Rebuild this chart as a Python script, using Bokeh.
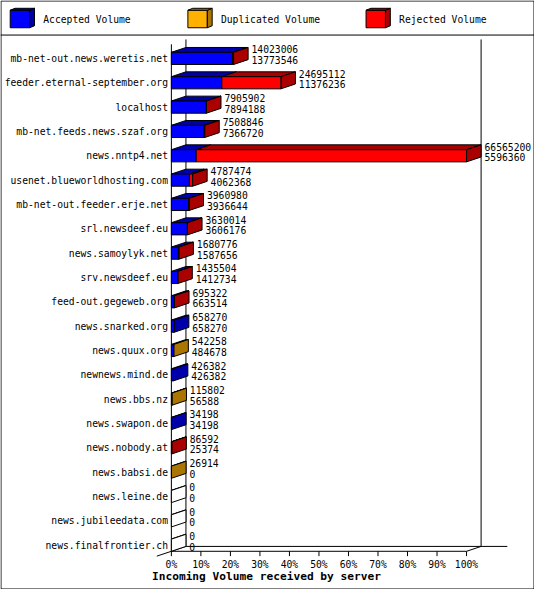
from bokeh.plotting import figure
from bokeh.models import Range1d
from bokeh.core.properties import value
from bokeh.embed import file_html
from bokeh.resources import INLINE

# ---------------- data ----------------
servers = [
    "mb-net-out.news.weretis.net",
    "feeder.eternal-september.org",
    "localhost",
    "mb-net.feeds.news.szaf.org",
    "news.nntp4.net",
    "usenet.blueworldhosting.com",
    "mb-net-out.feeder.erje.net",
    "srl.newsdeef.eu",
    "news.samoylyk.net",
    "srv.newsdeef.eu",
    "feed-out.gegeweb.org",
    "news.snarked.org",
    "news.quux.org",
    "newnews.mind.de",
    "news.bbs.nz",
    "news.swapon.de",
    "news.nobody.at",
    "news.babsi.de",
    "news.leine.de",
    "news.jubileedata.com",
    "news.finalfrontier.ch",
]
accepted = [13773546, 11376236, 7894188, 7366720, 5596360, 4062368, 3936644,
            3606176, 1587656, 1412734, 663514, 658270, 484678, 426382, 56588,
            34198, 25374, 0, 0, 0, 0]
duplicated = [0, 0, 0, 0, 0, 0, 0, 0, 0, 0, 0, 0, 57580, 0, 59214, 0, 0, 26914,
              0, 0, 0]
rejected = [249460, 13318876, 11714, 142126, 60968840, 725106, 24336, 23838,
            93120, 22770, 31808, 0, 0, 0, 0, 0, 61218, 0, 0, 0, 0]
series_names = ["Accepted Volume", "Duplicated Volume", "Rejected Volume"]
pct_ticks = [0, 10, 20, 30, 40, 50, 60, 70, 80, 90, 100]
title_text = "Incoming Volume received by server"

# ---------------- styles ----------------
face_colors = ["#0000FF", "#FFB000", "#FF0000"]
shade_colors = ["#0000AA", "#AA7500", "#AA0000"]
FONT = value("DejaVu Sans Mono")
FS = "9.7px"

# reference layout (pixel) -> data helpers
PX_X0, PX_PER_PCT = 176.0, 3.04
PX_Y0, PX_PER_ROW = 59.5, 25.0
def X(px): return (px - PX_X0) / PX_PER_PCT
def Y(py): return (py - PX_Y0) / PX_PER_ROW
DX = 15.0 / PX_PER_PCT
DY = -5.0 / PX_PER_ROW
HALF = 6.25 / PX_PER_ROW

p = figure(width=534, height=589, x_range=Range1d(X(0), X(550)),
           y_range=Range1d(Y(605), Y(0)), output_backend="svg",
           toolbar_location=None, min_border=0)
p.axis.visible = False
p.grid.visible = False
p.outline_line_color = None
p.background_fill_color = "white"
p.border_fill_color = "white"

n = len(servers)
totals = [a + d + r for a, d, r in zip(accepted, duplicated, rejected)]
vmax = max(totals)

# ---- frame / axes lines ----
top_back = Y(40)
floor_back = (n - 1) + HALF + DY
floor_front = (n - 1) + HALF
lines_x = [
    [0, 0], [X(191), X(191)], [100 + DX, 100 + DX], [X(191), X(522)],
    [0, 100], [100, 100 + DX], [X(161), X(191)],
]
lines_y = [
    [top_back - DY, floor_front], [top_back, floor_back], [top_back, floor_back],
    [floor_back, floor_back], [floor_front, floor_front],
    [floor_front, floor_back], [floor_front - DY, floor_back],
]
p.multi_line(lines_x, lines_y, line_color="black", line_width=1)
p.segment(x0=pct_ticks, x1=pct_ticks, y0=[floor_front] * len(pct_ticks),
          y1=[floor_front + 5 / PX_PER_ROW] * len(pct_ticks),
          line_color="black", line_width=1)
p.text(x=pct_ticks, y=[Y(579)] * len(pct_ticks),
       text=[f"{t}%" for t in pct_ticks], text_font=FONT, text_font_size=FS,
       text_align="center", text_baseline="middle", text_color="black")

# ---- bars ----
fl, fr, ft, fb, fc = [], [], [], [], []
txs, tys, tcs = [], [], []
sxs, sys_, scs = [], [], []
for i in range(n):
    vals = [accepted[i], duplicated[i], rejected[i]]
    yt, yb = i - HALF, i + HALF
    cum = 0
    last = None
    for k, v in enumerate(vals):
        if v <= 0:
            continue
        x0 = cum / vmax * 100
        x1 = (cum + v) / vmax * 100
        fl.append(x0); fr.append(x1); ft.append(yt); fb.append(yb)
        fc.append(face_colors[k])
        txs.append([x0, x1, x1 + DX, x0 + DX])
        tys.append([yt, yt, yt + DY, yt + DY])
        tcs.append(shade_colors[k])
        cum += v
        last = k
    xe = totals[i] / vmax * 100
    if last is None:
        txs.append([0, 0, DX, DX]); tys.append([yt, yt, yt + DY, yt + DY])
        tcs.append("white")
    sxs.append([xe, xe + DX, xe + DX, xe])
    sys_.append([yt, yt + DY, yb + DY, yb])
    scs.append(shade_colors[last] if last is not None else "white")

p.patches(txs, tys, fill_color=tcs, line_color="black", line_width=1)
p.patches(sxs, sys_, fill_color=scs, line_color="black", line_width=1)
p.quad(left=fl, right=fr, top=ft, bottom=fb, fill_color=fc,
       line_color="black", line_width=1)

# ---- labels ----
rows = list(range(n))
p.text(x=[X(172.5)] * n, y=rows, text=servers, text_font=FONT,
       text_font_size=FS, text_align="right", text_baseline="middle",
       text_color="black")
lab_x = [t / vmax * 100 + DX + 3.5 / PX_PER_PCT for t in totals]
p.text(x=lab_x, y=[r - 9.5 / PX_PER_ROW for r in rows],
       text=[str(t) for t in totals], text_font=FONT, text_font_size=FS,
       text_align="left", text_baseline="middle", text_color="black")
p.text(x=lab_x, y=[r + 1.5 / PX_PER_ROW for r in rows],
       text=[str(a) for a in accepted], text_font=FONT, text_font_size=FS,
       text_align="left", text_baseline="middle", text_color="black")

# ---- title ----
p.text(x=[X(156)], y=[Y(592)], text=[title_text], text_font=FONT,
       text_font_size="11.2px", text_font_style="bold", text_align="left",
       text_baseline="middle", text_color="black")

# ---- legend ----
leg_px = [10, 193, 376.5]
for k, lx in enumerate(leg_px):
    p.quad(left=[X(lx)], right=[X(lx + 20)], top=[Y(10)], bottom=[Y(28)],
           fill_color=face_colors[k], line_color="black", line_width=1)
    p.patches([[X(lx + 20), X(lx + 25), X(lx + 25), X(lx + 20)]],
              [[Y(10), Y(8), Y(26), Y(28)]], fill_color=shade_colors[k],
              line_color="black", line_width=1)
    p.patches([[X(lx), X(lx + 20), X(lx + 25), X(lx + 5)]],
              [[Y(10), Y(10), Y(8), Y(8)]], fill_color=shade_colors[k],
              line_color="black", line_width=1)
p.text(x=[X(lx + 34) for lx in leg_px], y=[Y(20)] * 3, text=series_names,
       text_font=FONT, text_font_size=FS, text_align="left",
       text_baseline="middle", text_color="black")

# ---- outer border and legend separator ----
p.multi_line([[X(0.5), X(549.5), X(549.5), X(0.5), X(0.5)], [X(0), X(550)]],
             [[Y(0.5), Y(0.5), Y(604.5), Y(604.5), Y(0.5)], [Y(35.5), Y(35.5)]],
             line_color="black", line_width=1)

open("out.html", "w").write(file_html(p, INLINE))
